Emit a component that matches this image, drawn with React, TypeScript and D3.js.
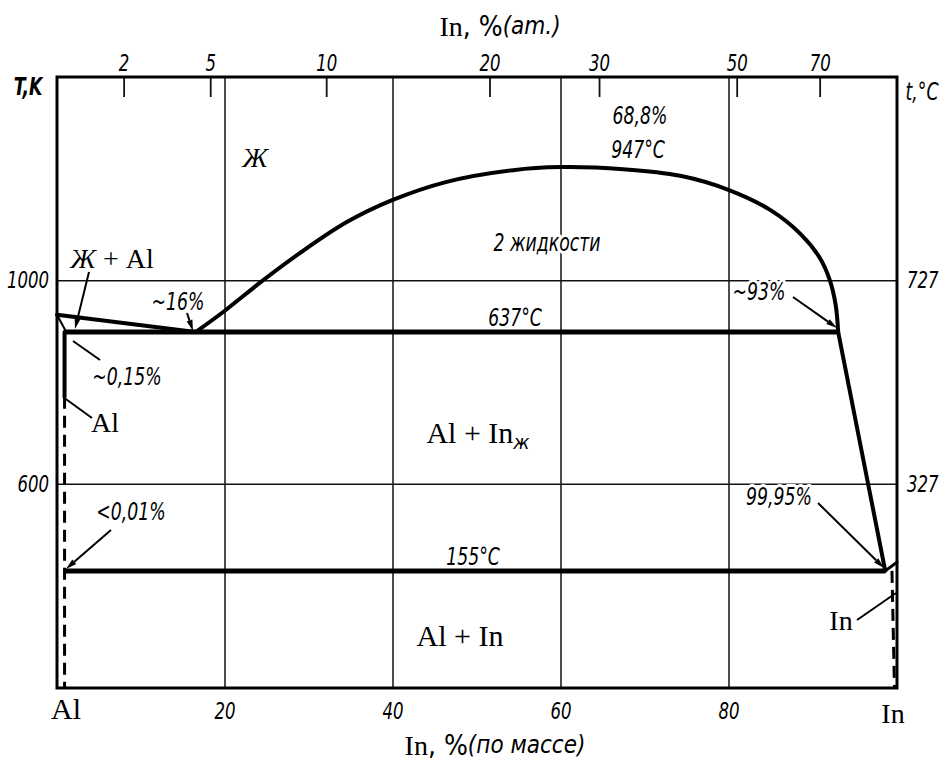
import React from 'react';
import * as d3 from 'd3';

// In, % by mass on the bottom axis; T in K on the left
const massTicks = [20, 40, 60, 80];
const atomTicks = [2, 5, 10, 20, 30, 50, 70];
const kelvinTicks = [600, 1000];
const celsiusTicks = [327, 727];

const liquidusAl = [[0, 933], [16.5, 899]];
const solidusAl = [[0, 933], [1.1, 899]];
const solvusAl = [[0.9, 899], [0.9, 772]];
const solvusAlDashed = [[0.9, 772], [0.9, 200]];
const dome = [
  [16.5, 899], [19.9, 940], [24.4, 999], [28.9, 1054], [34.5, 1115],
  [39.9, 1158], [46.4, 1194], [54.3, 1217], [59.9, 1223], [67.4, 1219],
  [74.2, 1206], [80.0, 1178], [84.9, 1139], [88.5, 1092], [90.8, 1045],
  [92.0, 1001], [92.7, 952], [93.0, 899],
];
const liquidusIn = [[93.0, 899], [98.6, 430]];
const liquidusInEnd = [[98.6, 430], [100, 447]];
const solvusInDashed = [[99.4, 430], [99.7, 200]];
const monotectic = [[0.9, 899], [93.0, 899]];
const eutectic = [[0.9, 430], [98.6, 430]];

const AL = 26.98;
const IN = 114.82;
const atToMass = (a: number) => (100 * a * IN) / (a * IN + (100 - a) * AL);

const W = 947;
const H = 766;
const x = d3.scaleLinear().domain([0, 100]).range([57, 897]);
const y = d3.scaleLinear().domain([200, 1400]).range([688, 77]);

const narrow = '"Liberation Sans Narrow", "DejaVu Sans Condensed", sans-serif';
const serif = '"Liberation Serif", "DejaVu Serif", serif';

const line = d3.line<number[]>().x(d => x(d[0])).y(d => y(d[1]));
const curve = d3.line<number[]>().x(d => x(d[0])).y(d => y(d[1])).curve(d3.curveCatmullRom.alpha(0.5));

// annotation text, pixel centres
const notes = [
  { t: '~16%', x: 178, y: 302 },
  { t: '2 жидкости', x: 547, y: 243 },
  { t: '68,8%', x: 640, y: 116 },
  { t: '947°C', x: 638, y: 150 },
  { t: '637°C', x: 515, y: 318 },
  { t: '~93%', x: 759, y: 292 },
  { t: '~0,15%', x: 127, y: 377 },
  { t: '<0,01%', x: 131, y: 512 },
  { t: '99,95%', x: 779, y: 497 },
  { t: '155°C', x: 473, y: 557 },
];

const arrows = [
  { x1: 89, y1: 272, x2: 75, y2: 329, head: true },
  { x1: 187, y1: 313, x2: 193, y2: 331, head: true },
  { x1: 100, y1: 360, x2: 73, y2: 341, head: false },
  { x1: 92, y1: 418, x2: 63, y2: 397, head: false },
  { x1: 111, y1: 530, x2: 66, y2: 569, head: true },
  { x1: 793, y1: 297, x2: 837, y2: 328, head: true },
  { x1: 818, y1: 503, x2: 884, y2: 568, head: true },
  { x1: 857, y1: 620, x2: 896, y2: 593, head: false },
];

const halo = { stroke: '#fff', strokeWidth: 6, paintOrder: 'stroke' as const, strokeLinejoin: 'round' as const };

// narrow italic text, squeezed to the drawing's lettering
function NText({ x, y, children, anchor = 'middle', size = 24, sx = 0.8, bold = false, h = false }: any) {
  return (
    <g transform={`translate(${x},${y}) scale(${sx},1)`}>
      <text textAnchor={anchor} dominantBaseline="central" fontFamily={narrow} fontStyle="italic"
        fontWeight={bold ? 'bold' : 'normal'} fontSize={size} {...(h ? halo : {})}>{children}</text>
    </g>
  );
}

export default function App() {
  const [x0, x1] = x.range();
  const [y0, y1] = y.range();
  return (
    <svg width={W} height={H} style={{ position: 'absolute', left: 0, top: 0, background: '#fff' }}>
      <rect width={W} height={H} fill="#fff" />
      {/* grid */}
      {massTicks.map(v => (
        <line key={'gx' + v} x1={x(v)} x2={x(v)} y1={y1} y2={y0} stroke="#111" strokeWidth={1.5} />
      ))}
      {kelvinTicks.map(v => (
        <line key={'gy' + v} x1={x0} x2={x1} y1={y(v)} y2={y(v)} stroke="#111" strokeWidth={1.5} />
      ))}
      {/* top at.% ticks */}
      {atomTicks.map(a => (
        <g key={'at' + a}>
          <line x1={x(atToMass(a))} x2={x(atToMass(a))} y1={y1} y2={y1 + 20} stroke="#111" strokeWidth={1.8} />
          <NText x={x(atToMass(a))} y={63} size={23}>{a}</NText>
        </g>
      ))}

      {/* phase lines */}
      <g fill="none" stroke="#000" strokeLinecap="round" strokeLinejoin="round">
        <path d={line(liquidusAl)!} strokeWidth={4} />
        <path d={line(solidusAl)!} strokeWidth={2} />
        <path d={line(solvusAl)!} strokeWidth={4} />
        <path d={line(solvusAlDashed)!} strokeWidth={3} strokeDasharray="12 7" strokeLinecap="butt" />
        <path d={curve(dome)!} strokeWidth={4} />
        <path d={line(liquidusIn)!} strokeWidth={4} />
        <path d={line(liquidusInEnd)!} strokeWidth={3} />
        <path d={line(solvusInDashed)!} strokeWidth={3} strokeDasharray="12 7" strokeLinecap="butt" />
        <path d={line(monotectic)!} strokeWidth={5} strokeLinecap="butt" />
        <path d={line(eutectic)!} strokeWidth={5} strokeLinecap="butt" />
      </g>

      {/* frame */}
      <rect x={x0} y={y1} width={x1 - x0} height={y0 - y1} fill="none" stroke="#000" strokeWidth={3} />

      {/* arrows */}
      {arrows.map((a, i) => {
        const ang = Math.atan2(a.y2 - a.y1, a.x2 - a.x1);
        const L = 11, w = 3;
        const bx = a.x2 - L * Math.cos(ang), by = a.y2 - L * Math.sin(ang);
        const px = -Math.sin(ang) * w, py = Math.cos(ang) * w;
        return (
          <g key={'ar' + i}>
            <line x1={a.x1} y1={a.y1} x2={a.head ? bx : a.x2} y2={a.head ? by : a.y2} stroke="#000" strokeWidth={2} />
            {a.head && (
              <polygon points={`${a.x2},${a.y2} ${bx + px},${by + py} ${bx - px},${by - py}`} fill="#000" />
            )}
          </g>
        );
      })}

      {/* annotations */}
      {notes.map(n => (
        <NText key={n.t} x={n.x} y={n.y} h>{n.t}</NText>
      ))}
      <text x={255} y={157} textAnchor="middle" dominantBaseline="central" fontFamily={serif} fontStyle="italic" fontSize={28}>Ж</text>
      <text x={112} y={258} textAnchor="middle" dominantBaseline="central" fontFamily={serif} fontSize={28} {...halo}>
        <tspan fontStyle="italic">Ж</tspan> + Al
      </text>
      <text x={105} y={422} textAnchor="middle" dominantBaseline="central" fontFamily={serif} fontSize={28} {...halo}>Al</text>
      <text x={478} y={432} textAnchor="middle" dominantBaseline="central" fontFamily={serif} fontSize={30} {...halo}>
        Al + In<tspan fontFamily={narrow} fontStyle="italic" fontSize={20} dy={10}>ж</tspan>
      </text>
      <text x={460} y={635} textAnchor="middle" dominantBaseline="central" fontFamily={serif} fontSize={30}>Al + In</text>
      <text x={841} y={620} textAnchor="middle" dominantBaseline="central" fontFamily={serif} fontSize={28} {...halo}>In</text>

      {/* bottom axis */}
      {massTicks.map(v => (
        <NText key={'bx' + v} x={x(v)} y={711} size={23}>{v}</NText>
      ))}
      <text x={x(0) + 9} y={708} textAnchor="middle" dominantBaseline="central" fontFamily={serif} fontSize={30}>Al</text>
      <text x={x(100) - 4} y={713} textAnchor="middle" dominantBaseline="central" fontFamily={serif} fontSize={28}>In</text>
      <text x={495} y={745} textAnchor="middle" dominantBaseline="central" fontSize={28}>
        <tspan fontFamily={serif}>In</tspan>
        <tspan fontFamily={narrow}>, %</tspan>
        <tspan fontFamily={narrow} fontStyle="italic" fontSize={24}>(по массе)</tspan>
      </text>
      <text x={500} y={26} textAnchor="middle" dominantBaseline="central" fontSize={28}>
        <tspan fontFamily={serif}>In</tspan>
        <tspan fontFamily={narrow}>, %</tspan>
        <tspan fontFamily={narrow} fontStyle="italic" fontSize={24}>(am.)</tspan>
      </text>

      {/* side axes */}
      {kelvinTicks.map(v => (
        <NText key={'k' + v} x={49} y={y(v)} anchor="end" size={23}>{v}</NText>
      ))}
      {celsiusTicks.map(v => (
        <NText key={'c' + v} x={907} y={y(v + 273)} anchor="start" size={23}>{v}</NText>
      ))}
      <NText x={28} y={87} size={24} bold>T,K</NText>
      <NText x={922} y={92} size={24}>t,°C</NText>
    </svg>
  );
}
